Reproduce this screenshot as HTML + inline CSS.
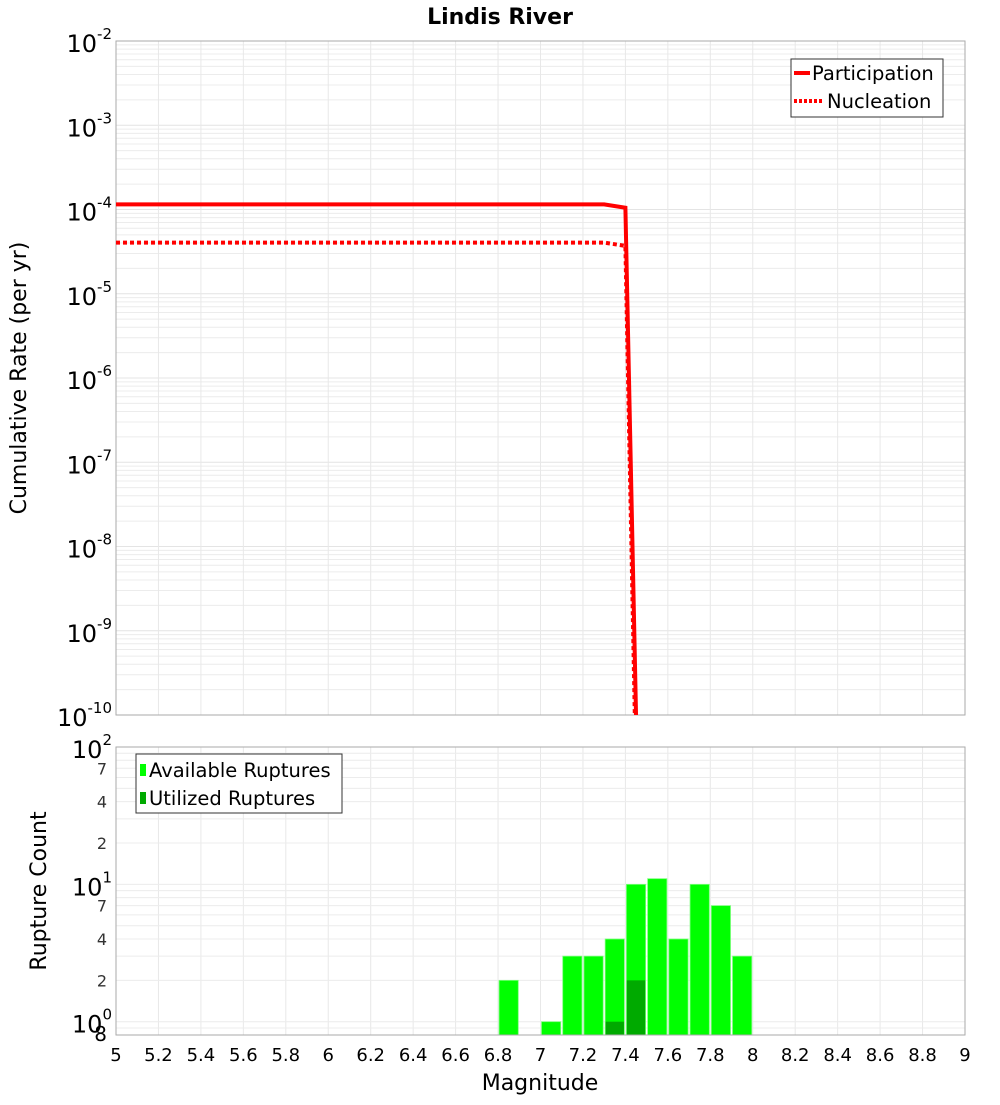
<!DOCTYPE html>
<html><head><meta charset="utf-8"><style>
body{margin:0;background:#fff;font-family:"Liberation Sans","DejaVu Sans",sans-serif}
svg text{font-family:"DejaVu Sans","Liberation Sans",sans-serif}
</style></head><body>
<svg id="chart" width="1000" height="1100" xmlns="http://www.w3.org/2000/svg">
<text x="500" y="24" text-anchor="middle" font-size="22" font-weight="bold">Lindis River</text>
<g id="topPlot"></g>
<g id="botPlot"></g>
<text transform="translate(26,378) rotate(-90)" text-anchor="middle" font-size="22">Cumulative Rate (per yr)</text>
<text transform="translate(46,891) rotate(-90)" text-anchor="middle" font-size="22">Rupture Count</text>
<text x="540" y="1090" text-anchor="middle" font-size="22">Magnitude</text>
<g>
<rect x="791" y="59" width="152" height="58" fill="#fff" stroke="#333"/>
<line x1="794" y1="73" x2="810" y2="73" stroke="red" stroke-width="4"/>
<text x="812" y="80" font-size="19.5">Participation</text>
<line x1="794" y1="101" x2="822" y2="101" stroke="red" stroke-width="4" stroke-dasharray="3,2"/>
<text x="827" y="108" font-size="19.5">Nucleation</text>
</g>
<g>
<rect x="136" y="754" width="206" height="59" fill="#fff" stroke="#333"/>
<rect x="140" y="764" width="6" height="12" fill="#00ff00"/>
<text x="149" y="777" font-size="19.5">Available Ruptures</text>
<rect x="140" y="792" width="6" height="12" fill="#00aa00"/>
<text x="149" y="805" font-size="19.5">Utilized Ruptures</text>
</g>
</svg>
<script>
const rateMags=[5,5.1,5.2,5.3,5.4,5.5,5.6,5.7,5.8,5.9,6,6.1,6.2,6.3,6.4,6.5,6.6,6.7,6.8,6.9,7,7.1,7.2,7.3,7.4,7.5];
const participation=[1.15e-4,1.15e-4,1.15e-4,1.15e-4,1.15e-4,1.15e-4,1.15e-4,1.15e-4,1.15e-4,1.15e-4,1.15e-4,1.15e-4,1.15e-4,1.15e-4,1.15e-4,1.15e-4,1.15e-4,1.15e-4,1.15e-4,1.15e-4,1.15e-4,1.15e-4,1.15e-4,1.15e-4,1.05e-4,1e-16];
const nucleation=[4.05e-5,4.05e-5,4.05e-5,4.05e-5,4.05e-5,4.05e-5,4.05e-5,4.05e-5,4.05e-5,4.05e-5,4.05e-5,4.05e-5,4.05e-5,4.05e-5,4.05e-5,4.05e-5,4.05e-5,4.05e-5,4.05e-5,4.05e-5,4.05e-5,4.05e-5,4.05e-5,4.05e-5,3.7e-5,1e-17];
const binCenters=[6.85,7.05,7.15,7.25,7.35,7.45,7.55,7.65,7.75,7.85,7.95];
const available=[2,1,3,3,4,10,11,4,10,7,3];
const utilized=[0,0,0,0,1,2,0,0,0,0,0];
const xTicks=[5,5.2,5.4,5.6,5.8,6,6.2,6.4,6.6,6.8,7,7.2,7.4,7.6,7.8,8,8.2,8.4,8.6,8.8,9];
const rateExps=[-2,-3,-4,-5,-6,-7,-8,-9,-10];
const countMinor=[2,4,7,20,40,70];

const NS="http://www.w3.org/2000/svg";
const L=116,R=965;
const X=m=>L+(m-5)/4*(R-L);
const TT=41,TB=715;
const Yt=v=>TT+(-2-Math.log10(v))/8*(TB-TT);
const BT=747,BB=1035;
const Yb=v=>BT+(2-Math.log10(v))/(2-Math.log10(0.8))*(BB-BT);
function mk(p,tag,a,txt){const e=document.createElementNS(NS,tag);for(const k in a)e.setAttribute(k,a[k]);if(txt!==undefined)e.textContent=txt;p.appendChild(e);return e;}
const topG=document.getElementById('topPlot'),botG=document.getElementById('botPlot');
const svgRoot=document.getElementById('chart');

for(let d=-10;d<-2;d++)for(let k=1;k<10;k++){const y=Yt(k*Math.pow(10,d));const g=mk(topG,'line',{x1:L,x2:R,y1:y,y2:y,stroke:k==1?'#e4e4e4':'#ececec','stroke-width':1});

}
xTicks.forEach(m=>{const g=mk(topG,'line',{x1:X(m),x2:X(m),y1:TT,y2:TB,stroke:'#e8e8e8'});


const g2=mk(botG,'line',{x1:X(m),x2:X(m),y1:BT,y2:BB,stroke:'#e8e8e8'});


const t=mk(svgRoot,'text',{x:X(m),y:1061,'text-anchor':'middle','font-size':18},String(m));

});
rateExps.forEach(e=>{const y=Yt(Math.pow(10,e));const t=mk(topG,'text',{x:112,y:y+11,'text-anchor':'end','font-size':24});


mk(t,'tspan',{},'10');mk(t,'tspan',{dy:-13,'font-size':15},String(e));});
mk(topG,'rect',{x:L,y:TT,width:R-L,height:TB-TT,fill:'none',stroke:'#aaa'});
const clipP=mk(topG,'clipPath',{id:'tc'});mk(clipP,'rect',{x:L,y:TT,width:R-L,height:TB-TT});
function pts(arr){return rateMags.map((m,i)=>X(m)+','+Yt(arr[i])).join(' ');}
const pn=mk(topG,'polyline',{points:pts(nucleation),fill:'none',stroke:'red','stroke-width':4,'stroke-dasharray':'4,3','clip-path':'url(#tc)'});


const pp=mk(topG,'polyline',{points:pts(participation),fill:'none',stroke:'red','stroke-width':4,'clip-path':'url(#tc)'});



for(let d=-1;d<2;d++)for(let k=1;k<10;k++){const v=k*Math.pow(10,d);if(v<0.8)continue;const y=Yb(v);const g=mk(botG,'line',{x1:L,x2:R,y1:y,y2:y,stroke:'#ececec'});

}
[[100,'2'],[10,'1'],[1,'0']].forEach(([v,e])=>{const y=Yb(v);const t=mk(botG,'text',{x:112,y:y+11,'text-anchor':'end','font-size':24});


mk(t,'tspan',{},'10');mk(t,'tspan',{dy:-13,'font-size':15},e);});
countMinor.forEach(v=>{const t=mk(botG,'text',{x:107,y:Yb(v)+6,'text-anchor':'end','font-size':16,fill:'#333'},String(v<10?v:v/10));

});
const t8=mk(botG,'text',{x:107,y:1041,'text-anchor':'end','font-size':20},'8');


const bw=(X(5.1)-X(5));
binCenters.forEach((c,i)=>{const x=X(c)-bw/2+1;const y=Yb(available[i]);
const b=mk(botG,'rect',{x:x,y:y,width:bw-2,height:BB-y,fill:'#00ff00',stroke:'#7dff7d','stroke-width':0.8});


if(utilized[i]>0){const yu=Yb(utilized[i]);const u=mk(botG,'rect',{x:x+0.5,y:yu,width:bw-3,height:BB-yu,fill:'#00aa00'});

}});
mk(botG,'rect',{x:L,y:BT,width:R-L,height:BB-BT,fill:'none',stroke:'#aaa'});
</script>
</body></html>
